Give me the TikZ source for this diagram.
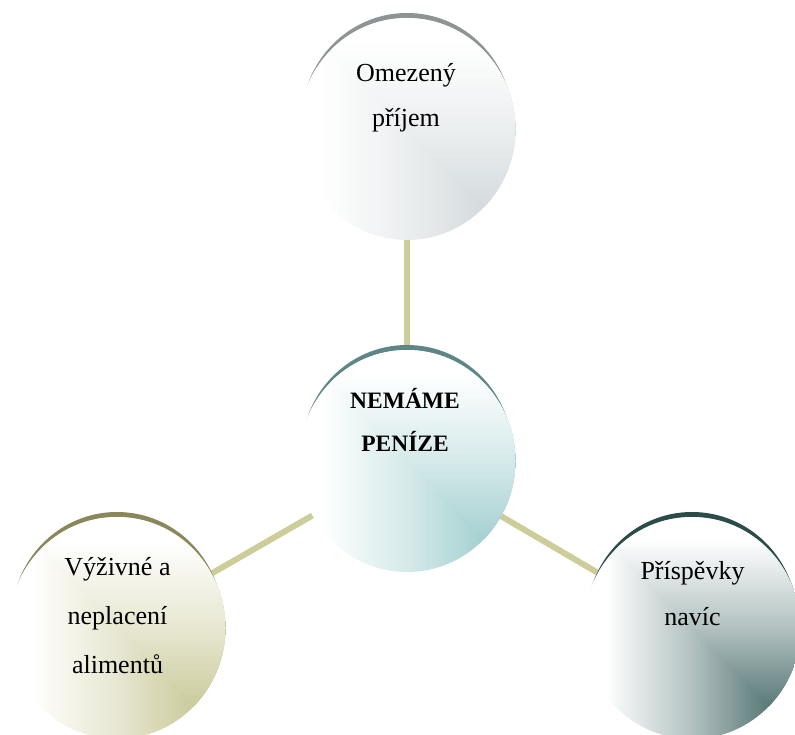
\documentclass[tikz,border=0pt]{standalone}
\usepackage{fontspec}
\setmainfont{Liberation Serif}
\usetikzlibrary{shapes.geometric}
\definecolor{linek}{HTML}{CDCD9A}
\definecolor{gA}{HTML}{CBD3D6}\definecolor{rA}{HTML}{8E9393}
\definecolor{gB}{HTML}{91C6C6}\definecolor{rB}{HTML}{5E8686}
\definecolor{gC}{HTML}{C0BF86}\definecolor{rC}{HTML}{8A875B}
\definecolor{gD}{HTML}{345C5A}\definecolor{rD}{HTML}{2B4C48}
\newcommand\mkshade[2]{%
  \pgfdeclarehorizontalshading{#1h}{100bp}{color(0bp)=(white); color(30bp)=(white); color(50bp)=(#2!38!white); color(75bp)=(#2); color(100bp)=(#2)}%
  \pgfdeclareverticalshading{#1v}{100bp}{color(0bp)=(#2); color(25bp)=(#2); color(50bp)=(#2!38!white); color(70bp)=(white); color(100bp)=(white)}}
\mkshade{shA}{gA}
\mkshade{shB}{gB}
\mkshade{shC}{gC}
\mkshade{shD}{gD}
\pgfdeclarelayer{background}
\pgfsetlayers{background,main}
\tikzset{
  bubble/.style={ellipse, inner sep=0pt, minimum width=217pt, minimum height=222pt,
    path picture={
      \shade[shading=#1h] (path picture bounding box.north west) rectangle (path picture bounding box.south east);
      \shade[shading=#1v] (path picture bounding box.north west)
        -- (path picture bounding box.north east) -- (path picture bounding box.south east) -- cycle;
    }},
  rimbox/.style={ellipse, inner sep=0pt, minimum width=211pt, minimum height=216pt, fill=#1},
  link/.style={line width=6pt, draw=linek},
  lbl/.style={anchor=base, inner sep=0pt},
}
\begin{document}
\begin{tikzpicture}[x=1pt,y=-1pt]
\useasboundingbox (0,0) rectangle (795,735);
% rims
\node[rimbox=rA] (r1) at (407,121) {};
\node[rimbox=rB] (r0) at (407,453) {};
\node[rimbox=rC] (r2) at (117,620) {};
\node[rimbox=rD] (r3) at (692,620) {};
% bubbles
\node[bubble=shA] (c1) at (407,129) {};
\node[bubble=shB] (c0) at (407,461) {};
\node[bubble=shC] (c2) at (117,628) {};
\node[bubble=shD] (c3) at (692,628) {};
% connectors
\begin{pgfonlayer}{background}
\draw[link] (c0.center) -- (c1.center);
\draw[link] (c0.center) -- (c2.center);
\draw[link] (c0.center) -- (c3.center);
\end{pgfonlayer}
% labels
\node[lbl, font=\fontsize{26}{44.5}\selectfont] (t1) at (406,82)
  {\begin{tabular}[t]{@{}c@{}}Omezený\\příjem\end{tabular}};
\node[lbl, font=\fontsize{23.5}{43}\selectfont\bfseries] (t0) at (405,408)
  {\begin{tabular}[t]{@{}c@{}}NEMÁME\\PENÍZE\end{tabular}};
\node[lbl, font=\fontsize{26}{49}\selectfont] (t2) at (117.5,575)
  {\begin{tabular}[t]{@{}c@{}}Výživné a\\neplacení\\alimentů\end{tabular}};
\node[lbl, font=\fontsize{26}{46}\selectfont] (t3) at (692.5,579)
  {\begin{tabular}[t]{@{}c@{}}Příspěvky\\navíc\end{tabular}};
\end{tikzpicture}
\end{document}
